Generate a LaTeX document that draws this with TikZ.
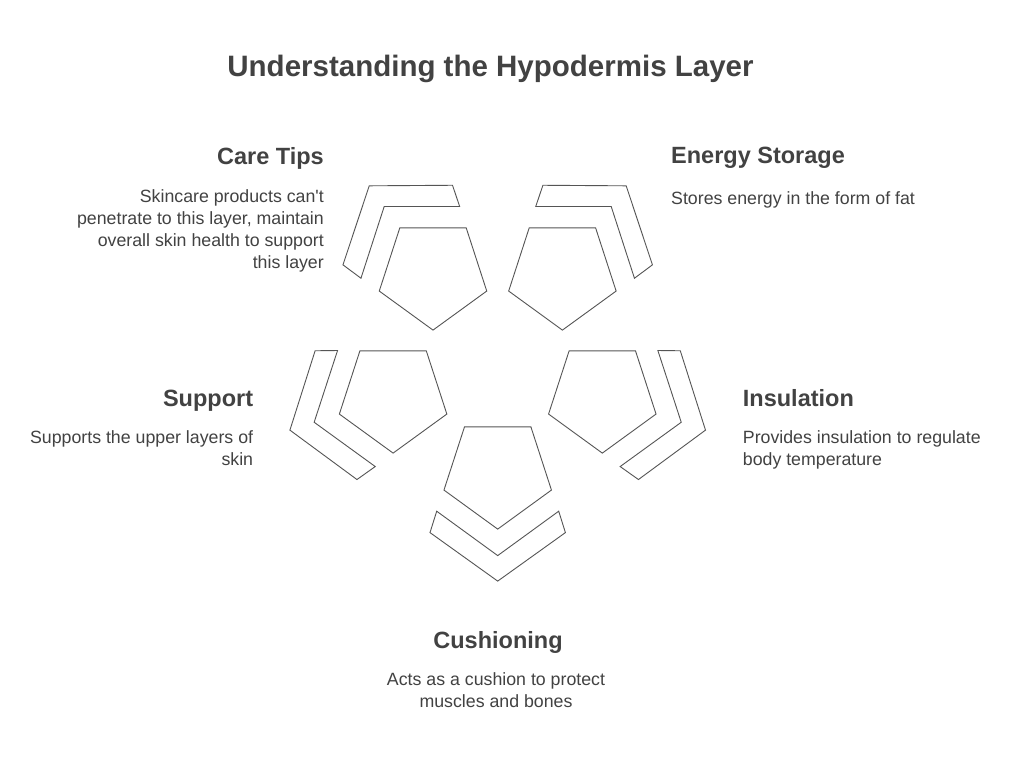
\documentclass[tikz,border=0pt]{standalone}
\usepackage{fontspec}
\setmainfont{Liberation Sans}
\usepackage{tikz}
\usetikzlibrary{shapes.geometric}
\definecolor{inkgray}{HTML}{424242}
\definecolor{linegray}{HTML}{555555}
\tikzset{
	penta/.style={regular polygon, regular polygon sides=5, shape border rotate=180,
		minimum size=113pt, inner sep=0pt, draw=linegray, line width=0.9pt},
	band/.style={draw=linegray, line width=0.9pt},
	headtext/.style={inkgray, inner sep=0pt, font=\fontsize{23.5}{28}\selectfont\bfseries},
	bodytext/.style={inkgray, inner sep=0pt, font=\fontsize{17.75}{22}\selectfont},
}

\begin{document}
\begin{tikzpicture}[x=1pt,y=-1pt]
			%%Location
			\fill[white] (0,0) rectangle (1024,768);
			\useasboundingbox (0,0) rectangle (1024,768);
			
			%%Title
			\node (title) at (490.5,76.5) [anchor=base, inkgray, inner sep=0pt, font=\fontsize{29.5}{35}\selectfont\bfseries] {Understanding the Hypodermis Layer};
			
			%%Pentagons
			\node (ct) at (433,273.6) [penta] {};
			\node (es) at (562.4,273.6) [penta] {};
			\node (sp) at (393.1,396.6) [penta] {};
			\node (in) at (602.3,396.6) [penta] {};
			\node (cu) at (497.7,472.6) [penta] {};
			
			%%Bands
			\draw[band, shift={(cu.center)}] (0,108.5) -- (-67.7,60) -- (-61,38.6) -- (0,83) -- (61,38.6) -- (67.7,60) -- cycle;
			\draw[band, shift={(ct.center)}, rotate=-144] (0,108.5) -- (-67.7,60) -- (-61,38.6) -- (0,83) -- (61,38.6) -- (67.7,60) -- cycle;
			\draw[band, shift={(es.center)}, rotate=144] (0,108.5) -- (-67.7,60) -- (-61,38.6) -- (0,83) -- (61,38.6) -- (67.7,60) -- cycle;
			\draw[band, shift={(sp.center)}, rotate=-72] (0,108.5) -- (-67.7,60) -- (-61,38.6) -- (0,83) -- (61,38.6) -- (67.7,60) -- cycle;
			\draw[band, shift={(in.center)}, rotate=72] (0,108.5) -- (-67.7,60) -- (-61,38.6) -- (0,83) -- (61,38.6) -- (67.7,60) -- cycle;
			
			%%Labels
			\node (cth) at (324,164.3) [headtext, anchor=base east] {Care Tips};
			\node (ctb) at (324,189) [bodytext, anchor=north east, align=right] {Skincare products can\textquotesingle t\\penetrate to this layer, maintain\\overall skin health to support\\this layer};
			\node (esh) at (671,163.3) [headtext, anchor=base west] {Energy Storage};
			\node (esb) at (671,191.3) [bodytext, anchor=north west, align=left] {Stores energy in the form of fat};
			\node (sph) at (253.3,406) [headtext, anchor=base east] {Support};
			\node (spb) at (253.3,430.6) [bodytext, anchor=north east, align=right] {Supports the upper layers of\\skin};
			\node (inh) at (742.7,406.7) [headtext, anchor=base west] {Insulation};
			\node (inb) at (742.7,430.6) [bodytext, anchor=north west, align=left] {Provides insulation to regulate\\body temperature};
			\node (cuh) at (498,648.3) [headtext, anchor=base] {Cushioning};
			\node (cub) at (496,672.3) [bodytext, anchor=north, align=center] {Acts as a cushion to protect\\muscles and bones};
			
\end{tikzpicture}
\end{document}
